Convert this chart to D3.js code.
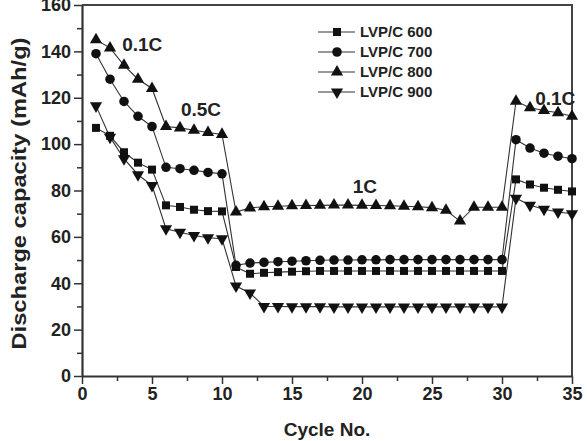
<!DOCTYPE html>
<html lang="en">
<head>
    <meta charset="UTF-8">
    <title>Discharge capacity vs cycle</title>
    <script src="https://d3js.org/d3.v7.min.js"></script>
    <style>
        body { margin: 0; background: #fff; }
        svg { display: block; font-family: "Liberation Sans", Arial, sans-serif; }
        .axis text { font-size: 18px; font-weight: bold; fill: #222; }
        .axis path, .axis line { stroke: #333; }
        .axis-label { font-size: 19px; font-weight: bold; fill: #222; }
        .note { font-size: 19px; font-weight: bold; fill: #222; }
        .legend text { font-size: 15px; font-weight: bold; fill: #222; }
    </style>
</head>
<body>
    <svg width="587" height="441"></svg>

    <script>
        // Data
        const cycles = [1, 2, 3, 4, 5, 6, 7, 8, 9, 10, 11, 12, 13, 14, 15, 16, 17, 18,
                        19, 20, 21, 22, 23, 24, 25, 26, 27, 28, 29, 30, 31, 32, 33, 34, 35];

        const lvp600 = [107, 103.6, 96.5, 92, 89, 73.6, 72.9, 71.7, 71.1, 71,
                        47, 44.1, 44.5, 44.8, 45, 45.2, 45.3, 45.3, 45.3, 45.3,
                        45.3, 45.3, 45.3, 45.3, 45.3, 45.3, 45.3, 45.3, 45.3, 45.3,
                        84.8, 82.6, 81.2, 80.3, 79.6];
        const lvp700 = [139, 128, 118.4, 112, 107.6, 90, 89.4, 88.7, 87.8, 87.2,
                        47.7, 48.7, 49, 49.3, 49.5, 49.7, 49.9, 50, 50, 50.1,
                        50.1, 50.2, 50.2, 50.2, 50.2, 50.2, 50.2, 50.2, 50.2, 50.2,
                        101.9, 98.3, 96.1, 94.8, 93.7];
        const lvp800 = [145, 141.5, 134, 128, 124, 107.6, 107, 106, 105, 104.2,
                        70.7, 72.5, 73, 73.2, 73.4, 73.5, 73.6, 73.7, 73.7, 73.6,
                        73.5, 73.4, 73.2, 73, 72.6, 71.5, 66.8, 72.8, 72.8, 72.8,
                        118.5, 115.7, 114.5, 113.5, 112];
        const lvp900 = [116.5, 103, 93.7, 86.8, 82.2, 63.5, 62, 60.6, 59.6, 59.2,
                        38.8, 35.8, 30, 30, 29.9, 29.9, 29.9, 29.8, 29.8, 29.8,
                        29.8, 29.8, 29.8, 29.8, 29.8, 29.8, 29.8, 29.8, 29.8, 29.8,
                        76.7, 73.6, 71.9, 70.7, 70];

        const seriesNames = ["LVP/C 600", "LVP/C 700", "LVP/C 800", "LVP/C 900"];
        const seriesValues = [lvp600, lvp700, lvp800, lvp900];

        const xTicks = [0, 5, 10, 15, 20, 25, 30, 35];
        const xMinor = [2.5, 7.5, 12.5, 17.5, 22.5, 27.5, 32.5];
        const yTicks = [0, 20, 40, 60, 80, 100, 120, 140, 160];
        const yMinor = [10, 30, 50, 70, 90, 110, 130, 150];

        // rate labels: [text, cycle, capacity]
        const rateLabels = [["0.1C", 4.3, 140], ["0.5C", 8.5, 112], ["1C", 20.2, 79], ["0.1C", 33.8, 117]];

        const margin = { top: 5, right: 15, bottom: 65, left: 82 };
        const width = 587 - margin.left - margin.right;
        const height = 441 - margin.top - margin.bottom;

        const svg = d3.select("svg")
          .append("g")
            .attr("transform", `translate(${margin.left},${margin.top})`);

        const x = d3.scaleLinear().domain([0, 35]).range([0, width]);
        const y = d3.scaleLinear().domain([0, 160]).range([height, 0]);

        // frame (top and right)
        svg.append("path")
            .attr("d", `M0,0H${width}V${height}`)
            .attr("fill", "none")
            .attr("stroke", "#444")
            .attr("stroke-width", 2);

        // minor ticks
        svg.append("g")
            .attr("class", "axis")
            .attr("transform", `translate(0,${height})`)
            .call(d3.axisBottom(x).tickValues(xMinor).tickSize(5).tickFormat(""))
            .call(g => g.select(".domain").remove())
            .selectAll("line").attr("stroke-width", 1.5);

        svg.append("g")
            .attr("class", "axis")
            .call(d3.axisLeft(y).tickValues(yMinor).tickSize(5).tickFormat(""))
            .call(g => g.select(".domain").remove())
            .selectAll("line").attr("stroke-width", 1.5);

        // major axes
        const xAxis = svg.append("g")
            .attr("class", "axis")
            .attr("transform", `translate(0,${height})`)
            .call(d3.axisBottom(x).tickValues(xTicks).tickSize(8).tickSizeOuter(0).tickPadding(3));
        xAxis.select(".domain").attr("stroke-width", 2.2);
        xAxis.selectAll("line").attr("stroke-width", 1.5);

        const yAxis = svg.append("g")
            .attr("class", "axis")
            .call(d3.axisLeft(y).tickValues(yTicks).tickSize(8).tickSizeOuter(0).tickPadding(3));
        yAxis.select(".domain").attr("stroke-width", 2.2);
        yAxis.selectAll("line").attr("stroke-width", 1.5);

        svg.append("text")
            .attr("class", "axis-label")
            .attr("x", width / 2)
            .attr("y", height + 60)
            .attr("text-anchor", "middle")
            .text("Cycle No.");

        // y title is drawn a bit stretched, as in the original
        svg.append("text")
            .attr("class", "axis-label")
            .attr("transform", "rotate(-90)")
            .attr("x", -(height / 2) - 3)
            .attr("y", -56)
            .style("font-size", "20px")
            .attr("text-anchor", "middle")
            .attr("textLength", 312)
            .attr("lengthAdjust", "spacingAndGlyphs")
            .text("Discharge capacity (mAh/g)");

        // markers
        const symbols = [
            { type: d3.symbolSquare, size: 64, rot: 0 },
            { type: d3.symbolCircle, size: 72, rot: 0 },
            { type: d3.symbolTriangle, size: 64, rot: 0 },
            { type: d3.symbolTriangle, size: 64, rot: 180 }
        ];

        const line = d3.line()
            .x((d, i) => x(cycles[i]))
            .y(d => y(d));

        seriesValues.forEach((vals, s) => {
            svg.append("path")
                .datum(vals)
                .attr("fill", "none")
                .attr("stroke", "#333")
                .attr("stroke-width", 1.1)
                .attr("d", line);
        });

        seriesValues.forEach((vals, s) => {
            const sym = d3.symbol().type(symbols[s].type).size(symbols[s].size);
            svg.selectAll(null)
                .data(vals)
              .enter().append("path")
                .attr("d", sym)
                .attr("fill", "#111")
                .attr("transform", (d, i) => `translate(${x(cycles[i])},${y(d)}) rotate(${symbols[s].rot})`);
        });

        // rate labels
        svg.selectAll(".note")
            .data(rateLabels)
          .enter().append("text")
            .attr("class", "note")
            .attr("x", d => x(d[1]))
            .attr("y", d => y(d[2]))
            .attr("text-anchor", "middle")
            .text(d => d[0]);

        // legend
        const legend = svg.append("g")
            .attr("class", "legend")
            .attr("transform", "translate(236,27)");

        seriesNames.forEach((name, s) => {
            const row = legend.append("g").attr("transform", `translate(0,${s * 20})`);
            row.append("line")
                .attr("x1", 0).attr("x2", 37)
                .attr("stroke", "#333").attr("stroke-width", 1.1);
            row.append("path")
                .attr("d", d3.symbol().type(symbols[s].type).size(symbols[s].size)())
                .attr("fill", "#111")
                .attr("transform", `translate(19,0) rotate(${symbols[s].rot})`);
            row.append("text")
                .attr("x", 42)
                .attr("dy", "0.36em")
                .text(name);
        });
    </script>
</body>
</html>
